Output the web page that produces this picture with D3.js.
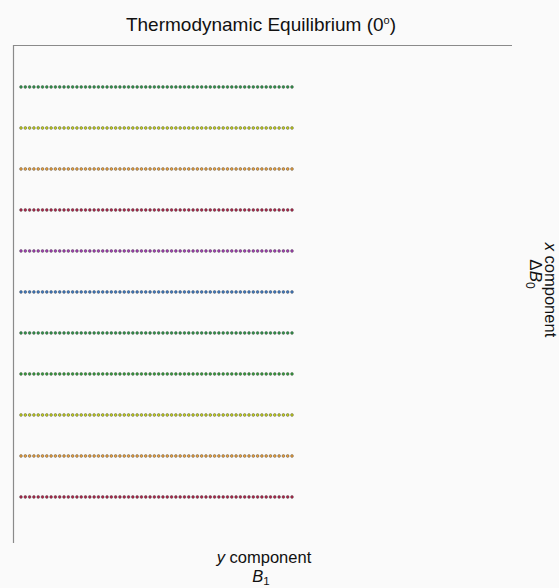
<!DOCTYPE html>
<html>
<head>
<meta charset="utf-8">
<script src="https://cdn.jsdelivr.net/npm/d3@7"></script>
<style>
  html, body { margin: 0; padding: 0; background: #fafafa; }
  svg { display: block; font-family: "Liberation Sans", Arial, sans-serif; }
</style>
</head>
<body>
<svg id="chart"></svg>
<script>
// ==============================
// DATA
// ==============================
const sampleIndex = [
  1, 2, 3, 4, 5, 6, 7, 8, 9, 10, 11, 12, 13, 14, 15, 16, 17, 18, 19, 20,
  21, 22, 23, 24, 25, 26, 27, 28, 29, 30, 31, 32, 33, 34, 35, 36, 37, 38, 39, 40,
  41, 42, 43, 44, 45, 46, 47, 48, 49, 50, 51, 52, 53, 54, 55, 56, 57, 58, 59, 60,
  61, 62, 63, 64
];
const rowLevels = [11, 10, 9, 8, 7, 6, 5, 4, 3, 2, 1];
const rowColors = ["#2e9a4a", "#c9d619", "#f2a43a", "#b5224a", "#a63cb8", "#3d7cc9",
                   "#2e9a4a", "#34a23a", "#c9d619", "#f2a43a", "#b5224a"];

// ==============================
// SVG + DIMENSIONS
// ==============================
const width = 559;
const height = 588;
const svg = d3.select("#chart").attr("width", width).attr("height", height);

const x = d3.scaleLinear().domain([1, 64]).range([21, 292]);
const y = d3.scaleLinear().domain([11, 1]).range([87, 497]);

// background
svg.append("rect").attr("width", width).attr("height", height).attr("fill", "#fafafa");

// axis lines
svg.append("line").attr("x1", 13).attr("x2", 512).attr("y1", 45.5).attr("y2", 45.5)
  .attr("stroke", "#8a8a8a").attr("stroke-width", 1.2);
svg.append("line").attr("x1", 13.5).attr("x2", 13.5).attr("y1", 45).attr("y2", 543)
  .attr("stroke", "#8a8a8a").attr("stroke-width", 1.2);

// ==============================
// DOT ROWS
// ==============================
const rows = svg.append("g").selectAll("g.row")
  .data(rowLevels)
  .enter()
  .append("g")
  .attr("class", "row");

rows.selectAll("circle")
  .data((lvl, i) => sampleIndex.map(s => ({ s, lvl, color: rowColors[i] })))
  .enter()
  .append("circle")
  .attr("cx", d => x(d.s))
  .attr("cy", d => y(d.lvl))
  .attr("r", 1.4)
  .attr("fill", d => d.color)
  .attr("stroke", "#3a3a3a")
  .attr("stroke-width", 0.55)
  .attr("stroke-opacity", 0.8);

// ==============================
// LABELS
// ==============================
const title = svg.append("text")
  .attr("x", 261).attr("y", 31)
  .attr("text-anchor", "middle")
  .attr("font-size", 19)
  .attr("fill", "#111");
title.append("tspan").text("Thermodynamic Equilibrium (0");
title.append("tspan").attr("dy", -7).attr("font-size", 11).text("o");
title.append("tspan").attr("dy", 7).text(")");

const bottom = svg.append("text")
  .attr("x", 264).attr("y", 563)
  .attr("text-anchor", "middle")
  .attr("font-size", 16.5)
  .attr("fill", "#111");
bottom.append("tspan").attr("font-style", "italic").text("y");
bottom.append("tspan").text(" component");

const b1 = svg.append("text")
  .attr("x", 261).attr("y", 582)
  .attr("text-anchor", "middle")
  .attr("font-size", 16.5)
  .attr("fill", "#111");
b1.append("tspan").attr("font-style", "italic").text("B");
b1.append("tspan").attr("dy", 3).attr("font-size", 11.5).text("1");

const right = svg.append("text")
  .attr("transform", "translate(545,290) rotate(90)")
  .attr("text-anchor", "middle")
  .attr("font-size", 16.5)
  .attr("fill", "#111");
right.append("tspan").attr("font-style", "italic").text("x");
right.append("tspan").text(" component");

const db = svg.append("text")
  .attr("transform", "translate(530,274) rotate(90)")
  .attr("text-anchor", "middle")
  .attr("font-size", 17)
  .attr("fill", "#111");
db.append("tspan").text("\u0394");
db.append("tspan").attr("font-style", "italic").text("B");
db.append("tspan").attr("dy", 4).attr("font-size", 12).text("0");
</script>
</body>
</html>
